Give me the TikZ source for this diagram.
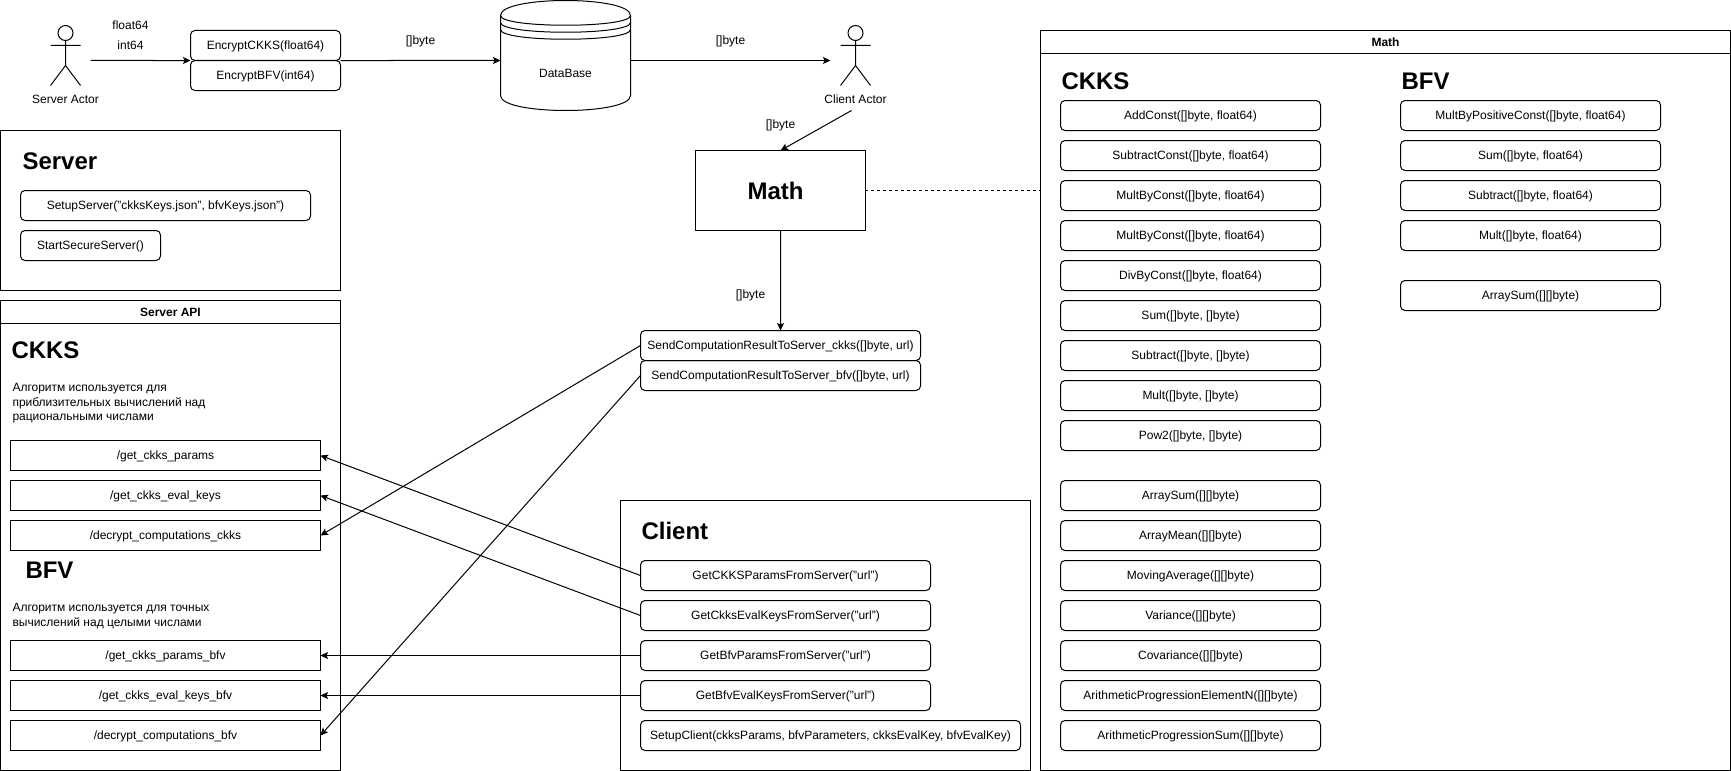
\documentclass[tikz,border=0pt]{standalone}
\usepackage{fontspec}
\setmainfont{Liberation Sans}
\usetikzlibrary{arrows.meta}
\tikzset{
	every node/.style = {font = \fontsize{12bp}{14.4bp}\selectfont, outer sep = 0, inner sep = 0},
	callbox/.style = {draw, rounded corners = 4.5bp, anchor = north west, minimum height = 30bp, text height = 10.9bp, text depth = 2.5bp},
	routebox/.style = {draw, anchor = north west, minimum width = 310bp, minimum height = 30bp, text height = 10.9bp, text depth = 2.5bp},
	panel/.style = {draw, anchor = north west},
	heading/.style = {anchor = west, font = \fontsize{24bp}{28bp}\selectfont\bfseries},
	paneltitle/.style = {font = \fontsize{12bp}{14.4bp}\selectfont\bfseries},
	note/.style = {anchor = north west, align = left},
	arrow/.style = {-{Stealth[length = 7.5bp, width = 7bp, inset = 1.5bp]}}
}
\begin{document}
\begin{tikzpicture} [x = 1bp, y = -1bp, line width = 1bp]
	\useasboundingbox (-0.5,-0.5) rectangle (1730.5,770.5);
	\node [panel, minimum width = 340bp, minimum height = 160bp] (server) at (0,130) {};
	\node [panel, minimum width = 340bp, minimum height = 470bp] (api) at (0,300) {};
	\node [panel, minimum width = 410bp, minimum height = 270bp] (client) at (620,500) {};
	\node [panel, minimum width = 690bp, minimum height = 740bp] (mathpanel) at (1040,30) {};
	\draw (0,323) -- (340,323);
	\draw (1040,53) -- (1730,53);
	\node [paneltitle] (apititle) at (170,311.5) {Server API};
	\node [paneltitle] (mathtitle) at (1385,41.5) {Math};
	%server actor
	\draw (65,32.5) circle (7.5);
	\draw (65,40) -- (65,65) (50,45) -- (80,45) (50,85) -- (65,65) -- (80,85);
	\node (serverlabel) at (65,99) {Server Actor};
	\coordinate (serverout) at (90,60);
	\node (floatlabel) at (130,25) {float64};
	\node (intlabel) at (130,45) {int64};
	\node [callbox, minimum width = 150bp] (encckks) at (190,30) {EncryptCKKS(float64)};
	\node [callbox, minimum width = 150bp] (encbfv) at (190,60) {EncryptBFV(int64)};
	%database
	\draw (500,15) .. controls (500,-5) and (630,-5) .. (630,15) -- (630,95) .. controls (630,115) and (500,115) .. (500,95) -- cycle;
	\draw (500,15) .. controls (500,28) and (630,28) .. (630,15);
	\draw (500,22) .. controls (500,35) and (630,35) .. (630,22);
	\draw (500,29) .. controls (500,42) and (630,42) .. (630,29);
	\node (database) at (565,73) {DataBase};
	\coordinate (dbin) at (500,60);
	\coordinate (dbout) at (630,60);
	\node (bytelabela) at (420,41) {[]byte};
	\node (bytelabelb) at (730,41) {[]byte};
	%client actor
	\draw (855,32.5) circle (7.5);
	\draw (855,40) -- (855,65) (840,45) -- (870,45) (840,85) -- (855,65) -- (870,85);
	\node (clientlabel) at (855,99) {Client Actor};
	\coordinate (clientin) at (830,60);
	\coordinate (clientout) at (851,110);
	\node (bytelabelc) at (780,125) {[]byte};
	\node [draw, minimum width = 170bp, minimum height = 80bp, anchor = north west] (math) at (695,150) {};
	\node [heading, anchor = center] (mathhead) at (775,190) {Math};
	\node (bytelabeld) at (750,295) {[]byte};
	\node [callbox, minimum width = 280bp] (sendckks) at (640,330) {SendComputationResultToServer\_ckks([]byte, url)};
	\node [callbox, minimum width = 280bp] (sendbfv) at (640,360) {SendComputationResultToServer\_bfv([]byte, url)};
	%server
	\node [heading] (serverhead) at (22,161) {Server};
	\node [callbox, minimum width = 290bp] (setupserver) at (20,190) {SetupServer("ckksKeys.json", bfvKeys.json")};
	\node [callbox, minimum width = 140bp] (startserver) at (20,230) {StartSecureServer()};
	%server api
	\node [heading] (apickks) at (11,350) {CKKS};
	\node [note] (ckksnote) at (12,383) {Алгоритм используется для\\приблизительных вычислений над\\рациональными числами};
	\node [routebox] (getparams) at (10,440) {/get\_ckks\_params};
	\node [routebox] (getkeys) at (10,480) {/get\_ckks\_eval\_keys};
	\node [routebox] (decckks) at (10,520) {/decrypt\_computations\_ckks};
	\node [heading] (apibfv) at (25,570) {BFV};
	\node [note] (bfvnote) at (12,603) {Алгоритм используется для точных\\вычислений над целыми числами};
	\node [routebox] (getparamsbfv) at (10,640) {/get\_ckks\_params\_bfv};
	\node [routebox] (getkeysbfv) at (10,680) {/get\_ckks\_eval\_keys\_bfv};
	\node [routebox] (decbfv) at (10,720) {/decrypt\_computations\_bfv};
	%client
	\node [heading] (clienthead) at (641,530) {Client};
	\node [callbox, minimum width = 290bp] (ckksparams) at (640,560) {GetCKKSParamsFromServer("url")};
	\node [callbox, minimum width = 290bp] (ckkskeys) at (640,600) {GetCkksEvalKeysFromServer("url")};
	\node [callbox, minimum width = 290bp] (bfvparams) at (640,640) {GetBfvParamsFromServer("url")};
	\node [callbox, minimum width = 290bp] (bfvkeys) at (640,680) {GetBfvEvalKeysFromServer("url")};
	\node [callbox, minimum width = 380bp] (setupclient) at (640,720) {SetupClient(ckksParams, bfvParameters, ckksEvalKey, bfvEvalKey)};
	%math ckks
	\node [heading] (mathckks) at (1061,81) {CKKS};
	\node [callbox, minimum width = 260bp] (addconst) at (1060,100) {AddConst([]byte, float64)};
	\node [callbox, minimum width = 260bp] (subconst) at (1060,140) {SubtractConst([]byte, float64)};
	\node [callbox, minimum width = 260bp] (multconsta) at (1060,180) {MultByConst([]byte, float64)};
	\node [callbox, minimum width = 260bp] (multconstb) at (1060,220) {MultByConst([]byte, float64)};
	\node [callbox, minimum width = 260bp] (divconst) at (1060,260) {DivByConst([]byte, float64)};
	\node [callbox, minimum width = 260bp] (sumckks) at (1060,300) {Sum([]byte, []byte)};
	\node [callbox, minimum width = 260bp] (subckks) at (1060,340) {Subtract([]byte, []byte)};
	\node [callbox, minimum width = 260bp] (multckks) at (1060,380) {Mult([]byte, []byte)};
	\node [callbox, minimum width = 260bp] (powckks) at (1060,420) {Pow2([]byte, []byte)};
	\node [callbox, minimum width = 260bp] (arrsumckks) at (1060,480) {ArraySum([][]byte)};
	\node [callbox, minimum width = 260bp] (arrmean) at (1060,520) {ArrayMean([][]byte)};
	\node [callbox, minimum width = 260bp] (movavg) at (1060,560) {MovingAverage([][]byte)};
	\node [callbox, minimum width = 260bp] (variance) at (1060,600) {Variance([][]byte)};
	\node [callbox, minimum width = 260bp] (covariance) at (1060,640) {Covariance([][]byte)};
	\node [callbox, minimum width = 260bp] (progelem) at (1060,680) {ArithmeticProgressionElementN([][]byte)};
	\node [callbox, minimum width = 260bp] (progsum) at (1060,720) {ArithmeticProgressionSum([][]byte)};
	%math bfv
	\node [heading] (mathbfv) at (1401,81) {BFV};
	\node [callbox, minimum width = 260bp] (multpos) at (1400,100) {MultByPositiveConst([]byte, float64)};
	\node [callbox, minimum width = 260bp] (sumbfv) at (1400,140) {Sum([]byte, float64)};
	\node [callbox, minimum width = 260bp] (subbfv) at (1400,180) {Subtract([]byte, float64)};
	\node [callbox, minimum width = 260bp] (multbfv) at (1400,220) {Mult([]byte, float64)};
	\node [callbox, minimum width = 260bp] (arrsumbfv) at (1400,280) {ArraySum([][]byte)};
	%connectors
	\draw [arrow] (serverout) -- (encckks.south west);
	\draw [arrow] (encckks.south east) -- (dbin);
	\draw [arrow] (dbout) -- (clientin);
	\draw [arrow] (clientout) -- (math.north);
	\draw [dash pattern = on 3bp off 3bp, dash phase = 1bp] (math.east) -- (math.east -| mathpanel.west);
	\draw [arrow] (math.south) -- (sendckks.north);
	\draw [arrow] (sendckks.west) -- (decckks.east);
	\draw [arrow] (sendbfv.west) -- (decbfv.east);
	\draw [arrow] (ckksparams.west) -- (getparams.east);
	\draw [arrow] (ckkskeys.west) -- (getkeys.east);
	\draw [arrow] (bfvparams.west) -- (getparamsbfv.east);
	\draw [arrow] (bfvkeys.west) -- (getkeysbfv.east);
\end{tikzpicture}
\end{document}
